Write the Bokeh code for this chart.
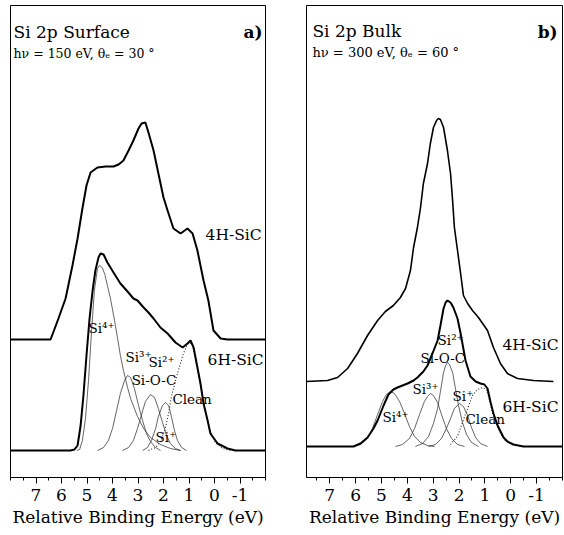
from bokeh.plotting import figure
from bokeh.layouts import row
from bokeh.models import Range1d, FixedTicker
from bokeh.core.properties import value
from bokeh.embed import file_html
from bokeh.resources import INLINE

FONT = "DejaVu Serif"

# ---------------- Panel a) Si 2p Surface (hv = 150 eV) ----------------
a_4h_be = [8.00, 6.43, 6.31, 6.12, 5.84, 5.57, 5.37, 5.18, 5.02, 4.86, 4.59, 4.27, 3.96, 3.76,
           3.57, 3.37, 3.18, 2.98, 2.86, 2.71, 2.59, 2.39, 2.20, 2.00, 1.84, 1.61, 1.33, 1.06,
           0.86, 0.67, 0.43, 0.24, 0.04, -0.24, -0.51, -2.00]
a_4h_int = [138, 138, 146, 159, 179, 212, 239, 269, 292, 305, 310, 311, 311, 313,
            317, 327, 337, 349, 354, 355, 345, 327, 304, 280, 267, 249, 244, 249,
            244, 227, 197, 177, 147, 139, 138, 138]

a_6h_be = [8.00, 5.65, 5.49, 5.37, 5.25, 5.14, 5.02, 4.90, 4.78, 4.67, 4.55, 4.47, 4.35, 4.20,
           3.96, 3.69, 3.41, 3.18, 3.02, 2.78, 2.59, 2.39, 2.12, 1.84, 1.53, 1.25, 1.06, 0.94,
           0.82, 0.67, 0.55, 0.43, 0.27, 0.16, -0.12, -0.51, -0.82, -2.00]
a_6h_int = [27, 27, 28, 32, 52, 82, 122, 159, 187, 207, 220, 224, 223, 215,
            205, 194, 186, 179, 177, 170, 165, 159, 150, 144, 135, 130, 134, 137,
            130, 110, 94, 74, 57, 44, 34, 29, 27, 27]

a_si4_be = [5.40, 5.29, 5.18, 5.06, 4.94, 4.82, 4.71, 4.59, 4.51, 4.40, 4.30, 4.20, 4.08,
            3.92, 3.80, 3.69, 3.57, 3.41, 3.29, 3.02, 2.78, 2.51, 2.12, 1.73, 1.33]
a_si4_int = [27, 28, 37, 59, 97, 147, 187, 209, 212, 210, 203, 192, 179,
             157, 139, 122, 107, 90, 79, 61, 49, 40, 33, 29, 27]

a_sioc_be = [4.59, 4.35, 4.16, 4.00, 3.84, 3.69, 3.53, 3.41, 3.29, 3.14, 2.98, 2.82, 2.67, 2.51, 2.31, 2.12]
a_sioc_int = [27, 30, 37, 49, 67, 84, 97, 102, 100, 89, 72, 57, 44, 36, 30, 27]

a_si2_be = [3.61, 3.37, 3.18, 3.02, 2.86, 2.71, 2.51, 2.35, 2.20, 2.04, 1.88, 1.73, 1.53, 1.33]
a_si2_int = [27, 30, 37, 49, 63, 76, 83, 80, 69, 55, 42, 34, 29, 27]

a_si1_be = [2.82, 2.63, 2.47, 2.31, 2.20, 2.04, 1.92, 1.80, 1.69, 1.57, 1.45, 1.29, 1.10]
a_si1_int = [27, 30, 37, 49, 61, 72, 75, 72, 61, 47, 37, 30, 27]

a_clean_be = [2.59, 2.31, 2.12, 1.96, 1.80, 1.69, 1.53, 1.37, 1.22, 1.06, 0.98, 0.86, 0.75, 0.63,
              0.51, 0.39, 0.27, 0.16, -0.04, -0.31, -0.63]
a_clean_int = [27, 30, 36, 46, 64, 81, 97, 111, 124, 133, 135, 132, 119, 104,
               87, 70, 57, 45, 35, 29, 27]

# ---------------- Panel b) Si 2p Bulk (hv = 300 eV) ----------------
b_4h_be = [7.90, 7.09, 6.70, 6.31, 5.93, 5.54, 5.15, 4.85, 4.54, 4.27, 4.07, 3.88, 3.76, 3.61,
           3.49, 3.38, 3.22, 3.11, 2.99, 2.87, 2.80, 2.72, 2.60, 2.45, 2.33, 2.25, 2.18, 2.06,
           1.94, 1.83, 1.67, 1.48, 1.25, 0.90, 0.67, 0.40, 0.13, -0.26, -0.88, -1.65]
b_4h_int = [96, 97, 100, 109, 124, 142, 157, 166, 172, 180, 189, 207, 230, 250,
            270, 294, 314, 334, 350, 357, 359, 358, 350, 327, 304, 277, 250, 227,
            204, 182, 174, 167, 160, 147, 130, 114, 104, 99, 97, 96]

b_6h_be = [7.90, 6.08, 5.81, 5.54, 5.31, 5.15, 4.92, 4.73, 4.54, 4.38, 3.99, 3.76, 3.61, 3.38,
           3.22, 3.03, 2.83, 2.72, 2.60, 2.52, 2.45, 2.33, 2.22, 2.06, 1.94, 1.75, 1.56, 1.36,
           1.17, 1.02, 0.90, 0.78, 0.67, 0.51, 0.28, 0.13, -0.10, -0.49, -2.00]
b_6h_int = [31, 31, 34, 40, 49, 57, 72, 83, 88, 90, 94, 97, 100, 106,
            112, 124, 137, 152, 169, 175, 177, 175, 170, 159, 144, 117, 101, 96,
            94, 93, 89, 75, 64, 52, 40, 36, 33, 31, 31]

b_si4_be = [6.12, 5.81, 5.54, 5.35, 5.15, 4.96, 4.81, 4.65, 4.50, 4.30, 4.11, 3.92, 3.72, 3.49, 3.22, 2.95]
b_si4_int = [31, 33, 39, 49, 63, 76, 83, 86, 84, 76, 64, 51, 41, 35, 32, 31]

b_si3_be = [4.46, 4.19, 3.92, 3.72, 3.53, 3.34, 3.22, 3.11, 2.99, 2.83, 2.68, 2.49, 2.29, 2.06, 1.79]
b_si3_int = [31, 33, 39, 49, 63, 76, 81, 84, 82, 75, 63, 49, 39, 33, 31]

b_si2_be = [3.69, 3.41, 3.18, 2.99, 2.83, 2.72, 2.60, 2.52, 2.45, 2.37, 2.25, 2.14, 2.02, 1.87, 1.71, 1.52, 1.25]
b_si2_int = [31, 34, 41, 54, 69, 86, 105, 112, 115, 113, 105, 89, 72, 55, 43, 35, 31]

b_si1_be = [3.18, 2.91, 2.68, 2.49, 2.33, 2.18, 1.98, 1.83, 1.67, 1.52, 1.36, 1.17, 0.90]
b_si1_int = [31, 33, 39, 49, 59, 69, 74, 71, 62, 50, 40, 34, 31]

b_clean_be = [2.33, 2.06, 1.87, 1.67, 1.48, 1.29, 1.09, 0.94, 0.82, 0.71, 0.55, 0.40, 0.21, -0.07, -0.45]
b_clean_int = [33, 41, 55, 69, 82, 88, 90, 88, 77, 65, 53, 44, 37, 33, 31]

major_ticks = [7, 6, 5, 4, 3, 2, 1, 0, -1]
minor_ticks = [8, 7.5, 6.5, 5.5, 4.5, 3.5, 2.5, 1.5, 0.5, -0.5, -1.5, -2]
tick_labels = {7: "7", 6: "6", 5: "5", 4: "4", 3: "3", 2: "2", 1: "1", 0: "0", -1: "-1"}

BOLD = dict(line_color="black", line_width=2)
THIN = dict(line_color="#222222", line_width=0.7)


def make_panel(x_start, width, bl, br):
    p = figure(width=width, height=535, output_backend="svg", toolbar_location=None,
               x_range=Range1d(x_start, -2), y_range=Range1d(0, 472),
               y_axis_location=None, min_border_left=bl, min_border_right=br,
               min_border_top=5, min_border_bottom=58)
    p.xgrid.visible = False
    p.ygrid.visible = False
    p.outline_line_color = "black"
    p.outline_line_width = 1
    p.outline_line_alpha = 1
    ax = p.xaxis[0]
    ax.ticker = FixedTicker(ticks=major_ticks, minor_ticks=minor_ticks)
    ax.major_label_overrides = tick_labels
    ax.axis_line_color = "black"
    ax.major_tick_out = 6
    ax.major_tick_in = 0
    ax.minor_tick_out = 3
    ax.minor_tick_in = 0
    ax.major_label_standoff = 5
    ax.major_label_text_font = FONT
    ax.major_label_text_font_size = "17px"
    ax.major_label_text_color = "black"
    ax.axis_label = "Relative Binding Energy (eV)"
    ax.axis_label_text_font = FONT
    ax.axis_label_text_font_size = "17px"
    ax.axis_label_text_font_style = "normal"
    ax.axis_label_text_color = "black"
    ax.axis_label_standoff = 3
    p.background_fill_color = "white"
    p.border_fill_color = "white"
    return p


def label(p, x, y, txt, size, align="left", baseline="middle", style="normal"):
    p.text(x=[x], y=[y], text=[txt], text_font=value(FONT), text_font_size=value(size),
           text_align=align, text_baseline=baseline, text_color="black",
           text_font_style=style)


# ---- panel a ----
pa = make_panel(8.0, 285, 10, 20)
pa.line(a_si4_be, a_si4_int, **THIN)
pa.line(a_sioc_be, a_sioc_int, **THIN)
pa.line(a_si2_be, a_si2_int, **THIN)
pa.line(a_si1_be, a_si1_int, **THIN)
pa.line(a_clean_be, a_clean_int, line_color="#222222", line_width=1.1, line_dash="1 2")
pa.line(a_4h_be, a_4h_int, **BOLD)
pa.line(a_6h_be, a_6h_int, **BOLD)

label(pa, 7.88, 446, "Si 2p Surface", "17px", baseline="alphabetic")
label(pa, 7.88, 424, "hν = 150 eV, θₑ = 30 °", "12.5px", baseline="alphabetic")
label(pa, -1.88, 446, "a)", "17px", align="right", baseline="alphabetic", style="bold")
label(pa, 0.35, 243, "4H-SiC", "15.5px")
label(pa, 0.27, 118, "6H-SiC", "15.5px")
label(pa, 4.94, 150, "Si⁴⁺", "13.5px")
label(pa, 3.49, 121, "Si³⁺", "13.5px")
label(pa, 2.59, 116, "Si²⁺", "13.5px")
label(pa, 3.25, 98, "Si-O-C", "13.5px")
label(pa, 1.65, 79, "Clean", "13.5px")
label(pa, 2.31, 41, "Si⁺", "13.5px")

# ---- panel b ----
pb = make_panel(7.9, 279, 21, 2)
pb.line(b_si4_be, b_si4_int, **THIN)
pb.line(b_si3_be, b_si3_int, **THIN)
pb.line(b_si2_be, b_si2_int, **THIN)
pb.line(b_si1_be, b_si1_int, **THIN)
pb.line(b_clean_be, b_clean_int, line_color="#222222", line_width=1.1, line_dash="1 2")
pb.line(b_4h_be, b_4h_int, line_color="black", line_width=1.6)
pb.line(b_6h_be, b_6h_int, **BOLD)

label(pb, 7.67, 447, "Si 2p Bulk", "17px", baseline="alphabetic")
label(pb, 7.67, 425, "hν = 300 eV, θₑ = 60 °", "13px", baseline="alphabetic")
label(pb, -1.81, 446, "b)", "17px", align="right", baseline="alphabetic", style="bold")
label(pb, 0.32, 133, "4H-SiC", "15.5px")
label(pb, 0.32, 71, "6H-SiC", "15.5px")
label(pb, 2.83, 138, "Si²⁺", "13.5px")
label(pb, 3.49, 120, "Si-O-C", "13.5px")
label(pb, 3.80, 89, "Si³⁺", "13.5px")
label(pb, 2.25, 82, "Si⁺", "13.5px")
label(pb, 1.75, 59, "Clean", "13.5px")
label(pb, 4.96, 61, "Si⁴⁺", "13.5px")

layout = row(pa, pb)
open("out.html", "w").write(file_html(layout, INLINE))
